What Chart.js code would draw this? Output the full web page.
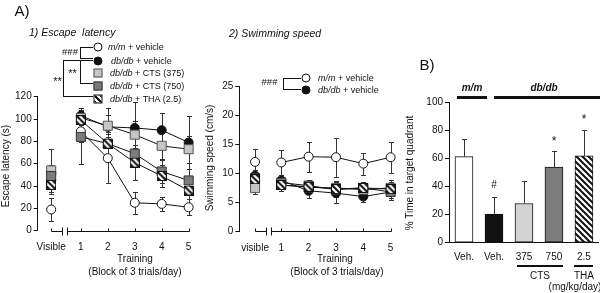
<!DOCTYPE html>
<html lang="en">
<head>
<meta charset="UTF-8">
<title>Escape latency, swimming speed and probe trial</title>
<script src="https://cdn.jsdelivr.net/npm/chart.js"></script>
<style>
  body { margin: 0; background: #fff; font-family: 'Liberation Sans', Arial, sans-serif; color: #111; }
  #wrap { position: relative; width: 600px; height: 293px; overflow: hidden; }
  canvas { position: absolute; left: 0; top: 0; }
  .t { position: absolute; white-space: nowrap; font-size: 10px; line-height: 1; }
  .cc { transform: translate(-50%, -50%); }
  .lc { transform: translateY(-50%); }
  .rot { transform: translate(-50%, -50%) rotate(-90deg); }
  .it { font-style: italic; }
  .ln { position: absolute; background: #111; }
  .mk { position: absolute; width: 9px; height: 9px; box-sizing: border-box; border: 1px solid #111; transform: translate(-50%, -50%); }
  .open { background: #fff; border-radius: 50%; }
  .full { background: #111; border-radius: 50%; }
  .light { background: #c6c6c6; border-color: #555; }
  .dark { background: #7b7b7b; border-color: #333; }
  .hatch { background: repeating-linear-gradient(45deg, #111 0 1.6px, #fff 1.6px 4.2px); }
</style>
</head>
<body>
<div id="wrap">
  <canvas id="c1" width="600" height="293"></canvas>
  <canvas id="c2" width="600" height="293"></canvas>
  <canvas id="c3" width="600" height="293"></canvas>

  <div class="t cc" style="left:22px;top:10px;font-size:15px;">A)</div>
  <div class="t cc" style="left:427px;top:64px;font-size:15px;">B)</div>
  <div class="t lc it" style="left:29px;top:32px;font-size:10.5px;">1) Escape&nbsp; latency</div>
  <div class="t lc it" style="left:229px;top:33px;font-size:10.5px;">2) Swimming speed</div>

  <div class="t rot" style="left:6px;top:166px;">Escape latency (s)</div>
  <div class="t rot" style="left:210px;top:158px;">Swimming speed (cm/s)</div>
  <div class="t rot" style="left:410px;top:173px;">% Time in target quadrant</div>

  <div class="t cc" style="left:135px;top:259px;">Training</div>
  <div class="t cc" style="left:135px;top:271.5px;">(Block of 3 trials/day)</div>
  <div class="t cc" style="left:335px;top:259px;">Training</div>
  <div class="t cc" style="left:337px;top:271.5px;">(Block of 3 trials/day)</div>

  <!-- legend, panel 1 -->
  <div class="mk open" style="left:98px;top:47px;"></div>
  <div class="mk full" style="left:98px;top:60.5px;"></div>
  <div class="mk light" style="left:98px;top:73px;"></div>
  <div class="mk dark" style="left:98px;top:86px;"></div>
  <div class="mk hatch" style="left:98px;top:98.5px;"></div>
  <div class="t lc" style="left:108px;top:47px;font-size:9px;"><i>m/m</i> + vehicle</div>
  <div class="t lc" style="left:111px;top:60.5px;font-size:9px;"><i>db/db</i> + vehicle</div>
  <div class="t lc" style="left:110px;top:73px;font-size:9px;"><i>db/db</i> + CTS (375)</div>
  <div class="t lc" style="left:110px;top:86px;font-size:9px;"><i>db/db</i> + CTS (750)</div>
  <div class="t lc" style="left:110px;top:98.5px;font-size:9px;"><i>db/db</i> + THA (2.5)</div>
  <div class="t cc" style="left:70px;top:52px;font-size:9.5px;">###</div>
  <div class="t cc" style="left:72.5px;top:73px;font-size:11px;">**</div>
  <div class="t cc" style="left:57.5px;top:81px;font-size:11px;">**</div>
  <div class="ln" style="left:80px;top:47px;width:1px;height:11px;"></div>
  <div class="ln" style="left:80px;top:47px;width:13px;height:1px;"></div>
  <div class="ln" style="left:80px;top:58px;width:13px;height:1px;"></div>
  <div class="ln" style="left:63px;top:60px;width:30px;height:1px;"></div>
  <div class="ln" style="left:80px;top:60px;width:1px;height:24px;"></div>
  <div class="ln" style="left:80px;top:83px;width:13px;height:1px;"></div>
  <div class="ln" style="left:63px;top:60px;width:1px;height:36px;"></div>
  <div class="ln" style="left:63px;top:96px;width:30px;height:1px;"></div>

  <!-- legend, panel 2 -->
  <div class="mk open" style="left:306px;top:78px;"></div>
  <div class="mk full" style="left:306px;top:90px;"></div>
  <div class="t lc" style="left:318px;top:78px;font-size:9px;"><i>m/m</i> + vehicle</div>
  <div class="t lc" style="left:318px;top:90px;font-size:9px;"><i>db/db</i> + vehicle</div>
  <div class="t cc" style="left:269.5px;top:82px;font-size:9.5px;">###</div>
  <div class="ln" style="left:283px;top:78px;width:1px;height:12px;"></div>
  <div class="ln" style="left:283px;top:78px;width:18px;height:1px;"></div>
  <div class="ln" style="left:283px;top:89px;width:18px;height:1px;"></div>

  <!-- panel B decorations -->
  <div class="t cc it" style="left:472px;top:88px;font-weight:bold;">m/m</div>
  <div class="t cc it" style="left:544px;top:88px;font-weight:bold;">db/db</div>
  <div class="ln" style="left:457px;top:95.5px;width:30px;height:3px;"></div>
  <div class="ln" style="left:494px;top:95.5px;width:106px;height:3px;"></div>
  <div class="t cc" style="left:494px;top:185px;">#</div>
  <div class="t cc" style="left:554px;top:141px;font-size:12px;">*</div>
  <div class="t cc" style="left:584px;top:119px;font-size:12px;">*</div>
  <div class="ln" style="left:517px;top:265px;width:46px;height:2px;"></div>
  <div class="ln" style="left:574px;top:265px;width:19px;height:2px;"></div>
  <div class="t cc" style="left:540px;top:276px;">CTS</div>
  <div class="t cc" style="left:584px;top:276px;">THA</div>
  <div class="t cc" style="left:575px;top:287px;">(mg/kg/day)</div>
</div>

<script>
const blocks1 = ['Visible', '1', '2', '3', '4', '5'];
const blocks2 = ['visible', '1', '2', '3', '4', '5'];
const groups = ['m/m + vehicle', 'db/db + vehicle', 'db/db + CTS (375)', 'db/db + CTS (750)', 'db/db + THA (2.5)'];

// 1) escape latency (s), mean and error
const latMM   = [19, 89, 65, 25, 24, 21];
const latDB   = [45, 103, 93, 92, 90, 79];
const latC375 = [54, 101, 94, 86, 76, 73];
const latC750 = [49, 84, 78, 69, 53, 45];
const latTHA  = [41, 99, 78, 61, 49, 36];
const latErrMM   = [10, 10, 22, 10, 6, 7];
const latErrDB   = [10, 7, 17, 23, 15, 24];
const latErrC375 = [19, 6, 10, 12, 12, 12];
const latErrC750 = [10, 24, 10, 24, 10, 10];
const latErrTHA  = [8, 8, 12, 16, 10, 8];

// 2) swimming speed (cm/s)
const spdMM   = [12.0, 11.9, 12.9, 12.8, 11.7, 12.8];
const spdDB   = [9.6, 8.8, 7.0, 6.6, 6.0, 6.8];
const spdC375 = [7.5, 8.0, 7.6, 7.5, 7.2, 7.5];
const spdC750 = [9.2, 8.4, 7.9, 7.2, 7.5, 6.8];
const spdTHA  = [9.0, 8.0, 7.7, 7.3, 7.5, 7.3];
const spdErrMM   = [2.3, 2.1, 2.6, 3.4, 1.9, 2.7];
const spdErrDB   = [1.0, 1.0, 1.2, 1.7, 0.9, 1.0];
const spdErrC375 = [1.0, 1.0, 1.0, 1.2, 1.0, 1.0];
const spdErrC750 = [0.8, 1.0, 1.0, 1.2, 1.0, 1.4];
const spdErrTHA  = [1.0, 1.0, 1.0, 1.2, 1.0, 1.5];

// B) probe trial
const probeLabels = ['Veh.', 'Veh.', '375', '750', '2.5'];
const probeValues = [61.5, 20.5, 28, 54, 62];
const probeErr    = [12.5, 12.5, 16, 11.5, 18.5];

Chart.defaults.font.family = "'Liberation Sans', Arial, sans-serif";
Chart.defaults.font.size = 10;
Chart.defaults.color = '#111';

// hatched marker for THA
const hatchIcon = document.createElement('canvas');
hatchIcon.width = 10; hatchIcon.height = 10;
(function () {
  const g = hatchIcon.getContext('2d');
  g.fillStyle = '#fff'; g.fillRect(0, 0, 10, 10);
  g.strokeStyle = '#111'; g.lineWidth = 2;
  [-6, 0, 6].forEach(c => { g.beginPath(); g.moveTo(c - 2, -2); g.lineTo(c + 12, 12); g.stroke(); });
  g.lineWidth = 1; g.strokeRect(0.5, 0.5, 9, 9);
})();

const markers = [
  { pointStyle: 'circle', pointRadius: 4.5, pointBackgroundColor: '#fff', pointBorderColor: '#111' },
  { pointStyle: 'circle', pointRadius: 4.5, pointBackgroundColor: '#111', pointBorderColor: '#111' },
  { pointStyle: 'rect', pointRadius: 6.4, pointBackgroundColor: '#c6c6c6', pointBorderColor: '#555' },
  { pointStyle: 'rect', pointRadius: 6.4, pointBackgroundColor: '#7b7b7b', pointBorderColor: '#333' },
  { pointStyle: hatchIcon, pointRadius: 5 }
];
const drawOrder = [3, 4, 2, 1, 0];

function drawErrors(chart, upOnly) {
  const { ctx } = chart;
  const ys = chart.scales.y;
  ctx.save();
  ctx.lineWidth = 1;
  ctx.strokeStyle = '#333';
  chart.data.datasets.forEach((ds, di) => {
    if (!ds.errors) return;
    chart.getDatasetMeta(di).data.forEach((el, i) => {
      const raw = ds.data[i];
      const v = typeof raw === 'object' ? raw.y : raw;
      const e = ds.errors[i];
      const x = Math.round(el.x) + 0.5;
      const top = Math.round(ys.getPixelForValue(v + e)) + 0.5;
      const bot = upOnly ? el.y : Math.round(ys.getPixelForValue(v - e)) + 0.5;
      ctx.beginPath();
      ctx.moveTo(x, top); ctx.lineTo(x, bot);
      ctx.moveTo(x - 2.5, top); ctx.lineTo(x + 2.5, top);
      if (!upOnly) { ctx.moveTo(x - 2.5, bot); ctx.lineTo(x + 2.5, bot); }
      ctx.stroke();
    });
  });
  ctx.restore();
}

const lineErrors = { id: 'lineErrors', beforeDatasetsDraw(chart) { drawErrors(chart, false); } };
const barErrors = { id: 'barErrors', afterDatasetsDraw(chart) { drawErrors(chart, true); } };

// x axis with a break between "visible" and training days
const brokenAxis = {
  id: 'brokenAxis',
  afterDraw(chart, args, o) {
    const { ctx, scales: { x, y } } = chart;
    const yy = Math.round(y.getPixelForValue(0)) + 0.5;
    const px = v => Math.round(x.getPixelForValue(v)) + 0.5;
    ctx.save();
    ctx.strokeStyle = '#111';
    ctx.lineWidth = 1;
    ctx.beginPath();
    ctx.moveTo(px(o.start), yy); ctx.lineTo(px(o.gap[0]), yy);
    ctx.moveTo(px(o.gap[1]), yy); ctx.lineTo(px(5), yy);
    o.gap.forEach(v => { ctx.moveTo(px(v), yy - 4); ctx.lineTo(px(v), yy + 4); });
    [o.start, 1, 2, 3, 4, 5].forEach(v => { ctx.moveTo(px(v), yy); ctx.lineTo(px(v), yy - 3); });
    ctx.stroke();
    ctx.restore();
  }
};

function lineChart(id, sets, errs, blocks, visX, xMin, yMax, yStep, pad) {
  const xs = blocks.map((b, i) => i === 0 ? visX : i);
  return new Chart(document.getElementById(id), {
    type: 'line',
    data: {
      datasets: sets.map((vals, k) => Object.assign({
        label: groups[k],
        data: vals.map((v, i) => ({ x: xs[i], y: v })),
        errors: errs[k],
        order: drawOrder[k],
        borderColor: '#111',
        borderWidth: 1,
        pointBorderWidth: 1,
        clip: false,
        segment: { borderColor: c => c.p0DataIndex === 0 ? 'rgba(0,0,0,0)' : '#111' }
      }, markers[k]))
    },
    options: {
      responsive: false,
      animation: false,
      events: [],
      layout: { padding: pad },
      plugins: { legend: { display: false }, tooltip: { enabled: false },
                 brokenAxis: { start: visX, gap: [visX + 0.39, visX + 0.57] } },
      scales: {
        x: {
          type: 'linear', min: xMin, max: 5.05,
          afterFit: s => { s.height = 20; },
          afterBuildTicks: s => { s.ticks = xs.map(v => ({ value: v })); },
          border: { display: false },
          grid: { display: false, drawTicks: false },
          ticks: { autoSkip: false, maxRotation: 0, padding: 11, callback: (v, i) => blocks[i] }
        },
        y: {
          min: 0, max: yMax,
          afterFit: s => { s.width = 30; },
          border: { display: true, color: '#111', width: 1 },
          grid: { display: true, drawOnChartArea: false, drawTicks: true, tickLength: 4, color: '#111' },
          ticks: { stepSize: yStep, padding: 2 }
        }
      }
    },
    plugins: [lineErrors, brokenAxis]
  });
}

lineChart('c1',
  [latMM, latDB, latC375, latC750, latTHA],
  [latErrMM, latErrDB, latErrC375, latErrC750, latErrTHA],
  blocks1, -0.1, -0.6, 120, 20,
  { left: 7.7, right: 410, top: 96.7, bottom: 42.3 });

lineChart('c2',
  [spdMM, spdDB, spdC375, spdC750, spdTHA],
  [spdErrMM, spdErrDB, spdErrC375, spdErrC750, spdErrTHA],
  blocks2, 0.04, -0.536, 25, 5,
  { left: 209.3, right: 208, top: 86.7, bottom: 41.7 });

// hatched fill for the THA bar
const c3 = document.getElementById('c3');
const tile = document.createElement('canvas');
tile.width = 6; tile.height = 6;
(function () {
  const g = tile.getContext('2d');
  g.fillStyle = '#fff'; g.fillRect(0, 0, 6, 6);
  g.strokeStyle = '#111'; g.lineWidth = 2;
  [-6, 0, 6].forEach(c => { g.beginPath(); g.moveTo(c - 1, -1); g.lineTo(c + 7, 7); g.stroke(); });
})();
const hatchFill = c3.getContext('2d').createPattern(tile, 'repeat');

new Chart(c3, {
  type: 'bar',
  data: {
    labels: probeLabels,
    datasets: [{
      data: probeValues,
      errors: probeErr,
      backgroundColor: ['#fff', '#111', '#d2d2d2', '#7d7d7d', hatchFill],
      borderColor: '#111',
      borderWidth: 1,
      borderSkipped: false,
      barThickness: 18
    }]
  },
  options: {
    responsive: false,
    animation: false,
    events: [],
    layout: { padding: { left: 419, right: 1, top: 102.7, bottom: 30.3 } },
    plugins: { legend: { display: false }, tooltip: { enabled: false } },
    scales: {
      x: {
        afterFit: s => { s.height = 20; },
        border: { display: true, color: '#111' },
        grid: { display: false, drawTicks: false },
        ticks: { padding: 9, autoSkip: false, maxRotation: 0 }
      },
      y: {
        min: 0, max: 100,
        afterFit: s => { s.width = 30; },
        border: { display: true, color: '#111', width: 1 },
        grid: { display: true, drawOnChartArea: false, drawTicks: true, tickLength: 4, color: '#111' },
        ticks: { stepSize: 20, padding: 2 }
      }
    }
  },
  plugins: [barErrors]
});
</script>
</body>
</html>
